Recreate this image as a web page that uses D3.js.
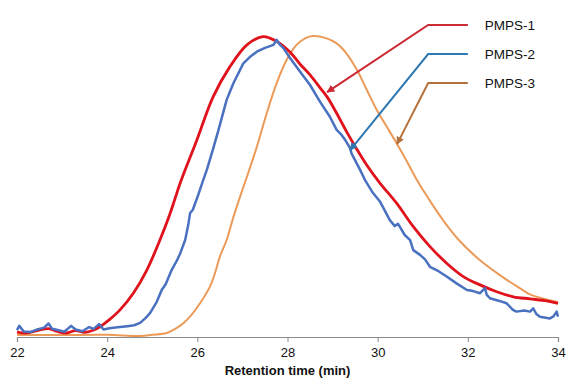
<!DOCTYPE html>
<html><head><meta charset="utf-8">
<script src="https://cdn.jsdelivr.net/npm/d3@7"></script>
<style>body{margin:0;background:#fff}svg{display:block}</style>
</head><body>
<script>
const xTicks = [22, 24, 26, 28, 30, 32, 34];
const xTitle = "Retention time (min)";
const seriesNames = ["PMPS-1", "PMPS-2", "PMPS-3"];

const pmps1 = [[22,0.3],[22.2,0],[22.45,0.8],[22.7,1.5],[22.9,0.5],[23.1,0],[23.3,0.8],[23.5,0.2],[23.7,1.0],[23.84,2.1],[24.05,4.5],[24.28,7.7],[24.58,13.4],[24.88,21.2],[25.17,31.3],[25.39,40],[25.5,45],[25.62,50.5],[25.99,65],[26.35,79.5],[26.72,89.6],[27.1,97],[27.45,99.8],[27.61,99.3],[27.83,97.5],[28.06,94.5],[28.28,90.5],[28.5,86.9],[28.72,82.6],[28.9,79],[29.09,74],[29.31,67.8],[29.54,61.8],[29.76,56.5],[30.05,50.5],[30.42,43.7],[30.79,35.8],[31.16,29.1],[31.53,23.5],[31.9,19],[32.27,16.2],[32.64,13.9],[33.01,12.2],[33.38,11.5],[33.75,10.8],[34,10]];

const pmps2 = [[22,1.0],[22.05,2.4],[22.15,0.5],[22.3,0.3],[22.45,1.2],[22.6,1.8],[22.7,3.2],[22.78,1.4],[22.9,1.0],[23.05,0.4],[23.2,2.4],[23.3,1.2],[23.45,0.6],[23.6,2.0],[23.7,1.4],[23.82,3.0],[23.92,1.2],[24.05,1.6],[24.28,2.0],[24.45,2.3],[24.6,2.6],[24.73,3.4],[24.85,5.0],[24.95,6.7],[25.1,10.5],[25.21,14.5],[25.3,16.5],[25.43,21.2],[25.55,24.5],[25.62,26.8],[25.73,31.3],[25.8,36.5],[25.84,40.4],[25.9,41.5],[26.02,46.5],[26.13,51.5],[26.21,54.9],[26.35,62],[26.47,68.4],[26.65,78.5],[26.8,84.1],[27.02,90.8],[27.17,93.0],[27.32,94.7],[27.5,96.0],[27.69,97.0],[27.76,98.7],[27.82,97.3],[27.91,95.9],[28.06,92.5],[28.28,88],[28.5,83.5],[28.72,77.9],[28.94,72.8],[29.09,68.4],[29.2,66.7],[29.28,65],[29.39,62.2],[29.42,60.5],[29.61,54.9],[29.72,51.5],[29.88,47.5],[30.05,44.3],[30.27,38],[30.38,36],[30.45,36.8],[30.6,33],[30.72,31.3],[30.79,27.9],[30.94,26.3],[31.05,24.8],[31.16,22.3],[31.35,20.8],[31.53,19],[31.75,16.7],[31.98,14.5],[32.1,14.2],[32.27,13.4],[32.38,15.1],[32.42,12.8],[32.49,11.7],[32.7,10.8],[32.86,10],[33.0,7.8],[33.08,7.2],[33.25,7.6],[33.38,7.2],[33.45,8.3],[33.52,6.4],[33.6,5.5],[33.82,4.9],[33.9,5.6],[33.97,7.2],[34,5.5]];

const pmps3 = [[22,-0.7],[23,-0.7],[24,-0.6],[24.73,-1.0],[25.0,-0.6],[25.32,0],[25.5,1.3],[25.69,3.3],[25.88,6.3],[26.06,10],[26.28,15.6],[26.39,20.1],[26.5,25.7],[26.65,31.3],[26.8,39],[26.95,46],[27.1,52.6],[27.32,62.7],[27.54,74],[27.76,84.1],[27.98,91.9],[28.2,97],[28.4,99.3],[28.57,100],[28.87,99.2],[29.09,97.5],[29.31,94.1],[29.54,88.6],[29.76,81.8],[29.98,75.1],[30.2,69.5],[30.42,63.9],[30.64,58],[30.87,51.5],[31.16,44.5],[31.38,39.5],[31.53,36.3],[31.83,30.8],[32.27,24.5],[32.71,19.5],[33.16,15],[33.38,13],[33.75,11.3],[34,10.4]];

// callouts: label line from t1 back to t0 at a level, then to the arrow tip on the curve
const callouts = [
  {t0: 31.12, t1: 32.0, level: 103.7, tipT: 28.88, tipV: 81.1},
  {t0: 31.12, t1: 32.0, level: 93.9, tipT: 29.39, tipV: 61.6},
  {t0: 31.12, t1: 32.0, level: 84.2, tipT: 30.43, tipV: 63.6}
];

const W = 567, H = 381;
const curveColors = ["#e0121c", "#4a70c0", "#ec9a58"];
const calloutColors = ["#cc2a35", "#2e78b2", "#b5723c"];
const widths = [2.8, 2.5, 2.0];
const font = "Liberation Sans, Arial, sans-serif";

const svg = d3.select("body").append("svg").attr("width", W).attr("height", H);
const x = d3.scaleLinear().domain([22, 34]).range([17, 558]);
const y = d3.scaleLinear().domain([0, 100]).range([333, 36]);

const axisG = svg.append("g").attr("transform", "translate(0,337)")
  .call(d3.axisBottom(x).tickValues(xTicks).tickSize(5).tickPadding(6).tickFormat(d3.format("d")));
axisG.select(".domain").attr("stroke", "#8a8a8a").attr("stroke-width", 1.2);
axisG.selectAll(".tick line").attr("stroke", "#8a8a8a");
axisG.selectAll(".tick text").attr("font-family", font).attr("font-size", 13).attr("fill", "#111");

svg.append("text").attr("x", x(28)).attr("y", 375).attr("text-anchor", "middle")
  .attr("font-family", font).attr("font-size", 13).attr("font-weight", "bold")
  .attr("fill", "#111").text(xTitle);

const smooth = d3.line().x(d => x(d[0])).y(d => y(d[1])).curve(d3.curveCatmullRom.alpha(0.5));
const jag = d3.line().x(d => x(d[0])).y(d => y(d[1])).curve(d3.curveLinear);

svg.append("path").datum(pmps3).attr("d", smooth).attr("fill", "none").attr("stroke", curveColors[2]).attr("stroke-width", widths[2]);
svg.append("path").datum(pmps1).attr("d", smooth).attr("fill", "none").attr("stroke", curveColors[0]).attr("stroke-width", widths[0]);
svg.append("path").datum(pmps2).attr("d", jag).attr("fill", "none").attr("stroke", curveColors[1]).attr("stroke-width", widths[1]).attr("stroke-linejoin", "round");

const defs = svg.append("defs");
calloutColors.forEach((c, i) => {
  defs.append("marker").attr("id", "arr" + i).attr("viewBox", "0 0 10 10").attr("refX", 9).attr("refY", 5)
    .attr("markerWidth", 4).attr("markerHeight", 4).attr("orient", "auto")
    .append("path").attr("d", "M0,0L10,5L0,10z").attr("fill", c);
});

callouts.forEach((c, i) => {
  svg.append("path")
    .attr("d", `M${x(c.t1)},${y(c.level)}L${x(c.t0)},${y(c.level)}L${x(c.tipT)},${y(c.tipV)}`)
    .attr("fill", "none").attr("stroke", calloutColors[i]).attr("stroke-width", 2)
    .attr("marker-end", `url(#arr${i})`);
  svg.append("text").attr("x", x(c.t1) + 17).attr("y", y(c.level)).attr("dy", "0.35em")
    .attr("font-family", font).attr("font-size", 13.5).attr("fill", "#111")
    .text(seriesNames[i]);
});
</script>
</body></html>
